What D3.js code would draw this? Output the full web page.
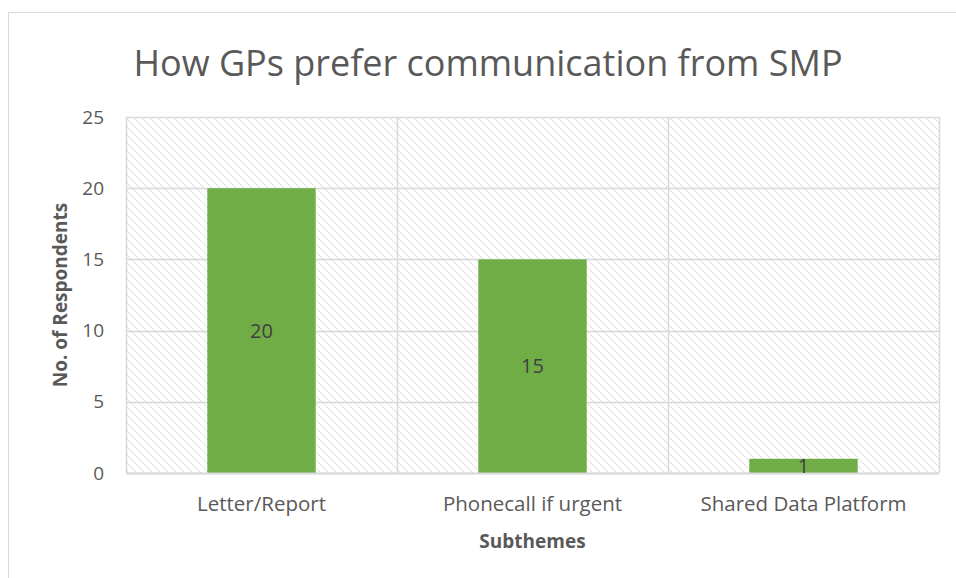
<!DOCTYPE html>
<html>
<head>
<meta charset="utf-8">
<script src="https://cdn.jsdelivr.net/npm/d3@7/dist/d3.min.js"></script>
<style>
  html, body { margin: 0; padding: 0; background: #fff; }
  svg { display: block; }
  text { font-family: "Open Sans", "Noto Sans", sans-serif; }
</style>
</head>
<body>
<svg id="chart" width="956" height="578"></svg>
<script>
// Responses per subtheme
const categories = ["Letter/Report", "Phonecall if urgent", "Shared Data Platform"];
const respondents = [20, 15, 1];
const yTicks = [0, 5, 10, 15, 20, 25];
const chartTitle = "How GPs prefer communication from SMP";
const xTitle = "Subthemes";
const yTitle = "No. of Respondents";

const W = 956, H = 578;
const plot = { left: 126, right: 939, top: 117, bottom: 473 };

const svg = d3.select("#chart");

// Diagonal hatch fill for the plot area
const defs = svg.append("defs");
const pat = defs.append("pattern")
  .attr("id", "hatch")
  .attr("patternUnits", "userSpaceOnUse")
  .attr("width", 8).attr("height", 8);
pat.append("path")
  .attr("d", "M-2,-2 L10,10 M-2,6 L2,10 M6,-2 L10,2")
  .attr("stroke", "#dadada")
  .attr("stroke-width", 1.2)
  .attr("stroke-dasharray", "1.8,1.2");

// Outer chart frame
svg.append("rect")
  .attr("x", 8.5).attr("y", 12.5)
  .attr("width", W + 10).attr("height", H + 10)
  .attr("fill", "#fff")
  .attr("stroke", "#d9d9d9")
  .attr("stroke-width", 1);

const x = d3.scaleBand()
  .domain(categories)
  .range([plot.left, plot.right])
  .paddingInner(0)
  .paddingOuter(0);

const y = d3.scaleLinear()
  .domain([0, 25])
  .range([plot.bottom, plot.top]);

// Plot background
svg.append("rect")
  .attr("x", plot.left).attr("y", plot.top)
  .attr("width", plot.right - plot.left)
  .attr("height", plot.bottom - plot.top)
  .attr("fill", "url(#hatch)");

// Horizontal gridlines
svg.append("g")
  .selectAll("line")
  .data(yTicks)
  .join("line")
  .attr("x1", plot.left).attr("x2", plot.right)
  .attr("y1", d => Math.round(y(d)) + 0.5)
  .attr("y2", d => Math.round(y(d)) + 0.5)
  .attr("stroke", "#d9d9d9")
  .attr("stroke-width", 1.5);

// Vertical gridlines at category boundaries
const bounds = categories.map(c => x(c)).concat([plot.right]);
svg.append("g")
  .selectAll("line")
  .data(bounds)
  .join("line")
  .attr("x1", d => Math.round(d) + 0.5).attr("x2", d => Math.round(d) + 0.5)
  .attr("y1", plot.top).attr("y2", plot.bottom)
  .attr("stroke", "#d9d9d9")
  .attr("stroke-width", 1.5);

// Bars: gap width 150% of bar width
const barW = x.bandwidth() / 2.5;
svg.append("g")
  .selectAll("rect")
  .data(categories)
  .join("rect")
  .attr("x", d => x(d) + (x.bandwidth() - barW) / 2)
  .attr("y", (d, i) => y(respondents[i]))
  .attr("width", barW)
  .attr("height", (d, i) => y(0) - y(respondents[i]))
  .attr("fill", "#70ad47");

// Axis baseline
svg.append("line")
  .attr("x1", plot.left).attr("x2", plot.right)
  .attr("y1", plot.bottom + 0.5).attr("y2", plot.bottom + 0.5)
  .attr("stroke", "#d9d9d9")
  .attr("stroke-width", 2);

// Value labels centred in the bars
svg.append("g")
  .selectAll("text")
  .data(categories)
  .join("text")
  .attr("x", d => x(d) + x.bandwidth() / 2)
  .attr("y", (d, i) => (y(respondents[i]) + y(0)) / 2)
  .attr("dy", "0.35em")
  .attr("text-anchor", "middle")
  .attr("font-size", 20)
  .attr("fill", "#404040")
  .text((d, i) => respondents[i]);

// Y tick labels
svg.append("g")
  .selectAll("text")
  .data(yTicks)
  .join("text")
  .attr("x", 104)
  .attr("y", d => y(d))
  .attr("dy", "0.35em")
  .attr("text-anchor", "end")
  .attr("font-size", 19)
  .attr("fill", "#595959")
  .text(d => d);

// Category labels
svg.append("g")
  .selectAll("text")
  .data(categories)
  .join("text")
  .attr("x", d => x(d) + x.bandwidth() / 2)
  .attr("y", 511)
  .attr("text-anchor", "middle")
  .attr("font-size", 20.5)
  .attr("fill", "#595959")
  .text(d => d);

// Axis titles
svg.append("text")
  .attr("x", (plot.left + plot.right) / 2)
  .attr("y", 548)
  .attr("text-anchor", "middle")
  .attr("font-size", 19)
  .attr("font-weight", "bold")
  .attr("fill", "#595959")
  .text(xTitle);

svg.append("text")
  .attr("transform", `translate(67, ${(plot.top + plot.bottom) / 2}) rotate(-90)`)
  .attr("text-anchor", "middle")
  .attr("font-size", 19)
  .attr("font-weight", "bold")
  .attr("fill", "#595959")
  .text(yTitle);

// Chart title
svg.append("text")
  .attr("x", 488)
  .attr("y", 76)
  .attr("text-anchor", "middle")
  .attr("font-size", 36)
  .attr("fill", "#595959")
  .text(chartTitle);
</script>
</body>
</html>
